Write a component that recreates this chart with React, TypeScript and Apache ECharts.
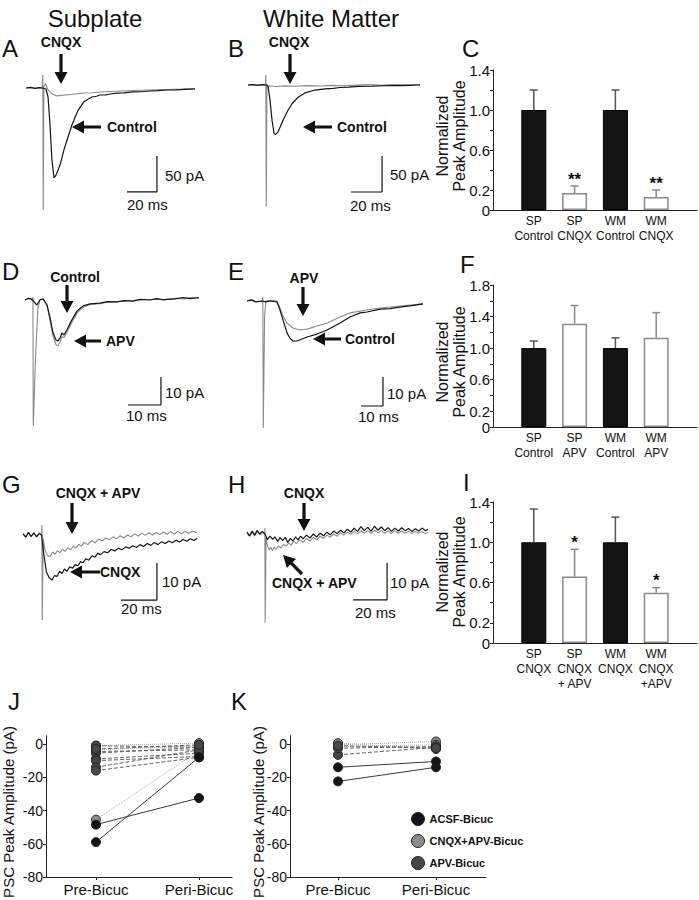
import React, { useEffect, useRef } from "react";
import * as echarts from "echarts";

// ---------------- DATA ----------------
// Traces: [time (ms), current (pA)]
const A_CONTROL = [[0,0],[3,0.8],[6,-0.5],[9,0.6],[10.7,0],[13.3,-1.4],[14.7,-12.5],[16,-51],[17.3,-100],[18.7,-125],[20,-121],[22.7,-107],[25.3,-86],[28,-68],[30.7,-51],[34.7,-31],[38.7,-19],[41,-16],[44,-12.5],[47,-11.5],[49.3,-9.7],[53,-9.5],[56,-8.3],[60.7,-7],[65,-6.8],[71.3,-5.5],[77,-5.2],[82.7,-4.2],[88,-3.6],[94,-2.8],[100,-2.6],[106,-1.8],[112.7,-1.4]];
const A_CNQX = [[0,0],[3,0.5],[6,-0.4],[9,0.5],[10.7,0],[11.2,18],[11.5,-169],[11.9,2],[13,6],[14.5,-2],[17,-8],[20.7,-11],[24.7,-10],[30,-9],[38,-7],[44,-6.5],[49.3,-5.5],[60,-4.5],[71.3,-3.5],[82,-2.8],[94,-2],[104,-1.4],[112.7,-0.7]];
const B_CONTROL = [[0,0],[3,0.6],[6,-0.5],[9,0.5],[11.6,0],[12.9,-1.4],[14.2,-21],[15.5,-49],[16.8,-67],[17.7,-69],[19.4,-65],[22.6,-49],[25.8,-35],[28.4,-26],[32.3,-17],[36.8,-11],[43.2,-7],[49.7,-5.5],[55,-4.8],[59.4,-3.5],[65,-3],[71,-2],[80,-1.5],[91.6,-0.7],[100,-0.8],[111,0]];
const B_CNQX = [[0,0],[3,0.6],[6,-0.5],[9,0.4],[11.2,0],[11.5,14],[11.8,-169],[12.2,1],[13,-3],[14,-1],[18,-2],[24,-1.2],[30,-1.8],[38,-0.8],[46,-1.3],[54,-0.5],[62,-1],[70,-0.2],[78,0.6],[86,-0.3],[94,0.5],[102,0.2],[111,0.6]];
const D_CONTROL = [[0,0],[1,0.6],[1.8,0.4],[2.3,0],[3.6,-1.8],[4.5,0],[5.5,0.4],[6.7,-1.8],[7.6,-6.4],[8.5,-11.8],[9.4,-14.3],[10,-14.6],[10.6,-13.6],[11.2,-11.8],[11.8,-12.5],[12.7,-10.7],[14.2,-7.1],[15.8,-3.9],[17.6,-2.1],[19.7,-1.4],[22.7,-1.1],[25,-0.6],[27.9,-0.7],[30,-0.2],[32.7,-0.4],[35,0.2],[37.9,0],[40,0.5],[42,0.1],[45.5,0.4],[48,0.9],[50,0.5],[52.7,0.9]];
const D_APV = [[0,0],[1,0.5],[2.2,0.3],[2.4,1],[2.5,-45],[3.2,-20],[3.9,-3],[4.5,0],[5.5,0.3],[6.7,-2.2],[7.6,-7.5],[8.5,-13],[9.4,-16],[10,-16.4],[10.6,-15],[11.2,-13],[11.8,-13.5],[12.7,-11.5],[14.2,-8],[15.8,-4.6],[17.6,-2.6],[19.7,-1.6],[22.7,-1.3],[25,-0.8],[27.9,-0.6],[30,-0.4],[32.7,-0.2],[35,0.1],[37.9,0.2],[40,0.3],[42,0],[45.5,0.6],[48,0.4],[50,0.8],[52.7,0.6]];
const E_CONTROL = [[0,0],[2,0.4],[4,-0.3],[6.8,0],[8.6,-0.3],[10.5,0],[13.6,-0.3],[15,-3.1],[16.4,-6.6],[18.2,-11],[19.5,-12.8],[20.9,-13.8],[22.7,-13.8],[25,-13.1],[27.3,-12.4],[31.8,-11.4],[36.4,-10],[42.3,-7.6],[46.8,-5.5],[51.4,-4.1],[54.5,-3.8],[60.5,-2.8],[65,-2.6],[69.5,-2.1],[75,-1.6],[80,-1]];
const E_APV = [[0,0],[2,0.3],[4,-0.2],[7,0],[7.2,1.4],[7.4,-43.8],[8,-5],[8.6,0],[10.5,0.2],[13.6,0],[15,-2.4],[16.4,-5.2],[18.2,-7.6],[20.9,-9.3],[24,-10],[27.3,-9.7],[31.8,-8.6],[36.4,-7.6],[42.3,-5.5],[46.8,-4.1],[54.5,-3.1],[60.5,-2.4],[69.5,-1.7],[80,-1]];
const G_CNQX = [[0,0.3],[1.5,-0.6],[3,0.7],[4.5,-0.4],[6,0.6],[7.5,-0.5],[9,0.4],[10.3,0],[11.5,-5],[13,-10],[14.5,-11.5],[16.1,-12.2],[17.5,-11],[18.9,-11.2],[20.3,-9.8],[21.7,-10.4],[23,-9.2],[24.4,-9.8],[26,-8.6],[27.5,-9],[28.9,-8],[30.5,-8.3],[32,-7.2],[33.3,-7.5],[35,-6.4],[36.6,-6.8],[38.3,-5.6],[40,-6],[41.5,-4.9],[43,-5.3],[45,-4.5],[47,-4.8],[49,-3.9],[51,-4.3],[53,-3.6],[55,-4],[57,-3.2],[59,-3.6],[61,-2.9],[63,-3.4],[65,-2.6],[67,-3.1],[69,-2.3],[71,-2.8],[73,-2],[75,-2.6],[77,-1.8],[79,-2.3],[81,-1.6],[83,-2.1],[85,-1.4],[87,-1.9],[89,-1.2],[91,-1.7],[93,-1],[95,-1.5],[96.7,-0.9]];
const G_CNQX_APV = [[0,0.4],[1.5,-0.5],[3,0.6],[4.5,-0.5],[6,0.5],[7.5,-0.3],[9,0.5],[10.3,0],[10.5,2.7],[10.7,-23],[11.2,-1],[12.2,-4],[13.5,-5.5],[15,-5.9],[16.4,-4.6],[17.8,-5.2],[19.2,-4.2],[20.6,-4.8],[22,-3.8],[23.4,-4.4],[25,-3.4],[26.5,-4],[28,-3],[29.5,-3.5],[31,-2.5],[32.5,-3],[34,-2],[36,-2.6],[38,-1.5],[40,-2.1],[42,-1.1],[44,-1.6],[46,-0.8],[48,-1.3],[50,-0.5],[52,-1],[54,-0.2],[56,-0.8],[58,0],[60,-0.5],[62,0.3],[64,-0.3],[66,0.5],[68,-0.1],[70,0.6],[72,0],[74,0.7],[76,0.1],[78,0.8],[80,0.2],[82,0.9],[84,0.2],[86,1],[88,0.3],[90,1],[92,0.4],[94,1.1],[96.7,0.6]];
const H_CNQX = [[0,0.5],[1.5,-0.5],[3,0.8],[4.5,-0.3],[6,1],[7.5,0],[9,0.7],[10.6,0],[12,-1.5],[13.5,-0.6],[15,-1.4],[16.5,-0.8],[18,-2],[19.5,-1],[21,-1.8],[22.5,-0.9],[24,-2.3],[25.5,-1.2],[27,-1.9],[28.5,-0.8],[30,-1.6],[31.5,-0.6],[33,-1.3],[35,-0.3],[37,-1.1],[39,0],[41,-0.8],[43,0.2],[45,-0.5],[47,0.5],[49,-0.2],[51,0.8],[53,0.1],[55,1],[57,0.3],[59,1.3],[61,0.5],[63,1.6],[65,0.7],[67,2],[69,0.9],[71,1.8],[73,0.8],[75,2.1],[77,1],[79,1.9],[81,0.9],[83,1.7],[85,0.7],[87,1.6],[89,0.8],[91,1.7],[93,0.9],[95,1.5],[97,0.7],[99,1.4],[101,0.8],[103,1.6],[105,0.9],[106.5,1.3]];
const H_CNQX_APV = [[0,0.2],[1.5,-0.6],[3,0.5],[4.5,-0.5],[6,0.7],[7.5,-0.2],[9,0.4],[10.4,0],[10.5,1.6],[10.7,-24],[11.2,-1],[12,-3],[13,-4.3],[14,-3.6],[15,-4.5],[16,-3.5],[17,-4.2],[18.5,-3.2],[20,-3.8],[21.5,-2.8],[23,-3.3],[24.5,-2.4],[26,-3],[27.5,-2],[29,-2.6],[31,-1.6],[33,-2.3],[35,-1.2],[37,-1.9],[39,-0.9],[41,-1.6],[43,-0.6],[45,-1.2],[47,-0.3],[49,-0.9],[51,0],[53,-0.6],[55,0.3],[57,-0.3],[59,0.5],[61,-0.1],[63,0.7],[65,0.1],[67,0.8],[69,0.2],[71,0.9],[73,0.2],[75,1],[77,0.3],[79,0.9],[81,0.2],[83,0.8],[85,0.1],[87,0.9],[89,0.2],[91,0.8],[93,0.2],[95,0.7],[97,0.1],[99,0.7],[101,0.2],[103,0.6],[105,0.1],[106.5,0.5]];

// Bar panels (normalized peak amplitude)
const C_LABELS = ["SP\nControl", "SP\nCNQX", "WM\nControl", "WM\nCNQX"];
const C_MEAN = [1.0, 0.17, 1.0, 0.13];
const C_UPPER = [1.2, 0.24, 1.2, 0.2];
const C_SIG = ["", "**", "", "**"];
const F_LABELS = ["SP\nControl", "SP\nAPV", "WM\nControl", "WM\nAPV"];
const F_MEAN = [1.0, 1.31, 1.0, 1.13];
const F_UPPER = [1.09, 1.54, 1.13, 1.45];
const F_SIG = ["", "", "", ""];
const I_LABELS = ["SP\nCNQX", "SP\nCNQX\n+ APV", "WM\nCNQX", "WM\nCNQX\n+APV"];
const I_MEAN = [1.0, 0.66, 1.0, 0.5];
const I_UPPER = [1.33, 0.93, 1.25, 0.55];
const I_SIG = ["", "*", "", "*"];
const C_TICKS = [0, 0.2, 0.6, 1.0, 1.4];
const F_TICKS = [0, 0.2, 0.6, 1.0, 1.4, 1.8];
const I_TICKS = [0, 0.2, 0.6, 1.0, 1.4];

// Paired PSC peak amplitudes (pA): pre vs peri bicuculline
const PAIR_CATS = ["Pre-Bicuc", "Peri-Bicuc"];
const PSC_TICKS = [-80, -60, -40, -20, 0];
const J_ACSF_PRE = [-59, -48.5];
const J_ACSF_PERI = [-8, -32.5];
const J_CNQX_APV_PRE = [-45.5, -1, -3.5];
const J_CNQX_APV_PERI = [-4, 0.5, -1];
const J_APV_PRE = [-1, -4.5, -5.5, -9, -10, -14, -16, -3];
const J_APV_PERI = [-2, -3.5, -2, -5.5, -7.5, -3.5, -8, -0.5];
const K_ACSF_PRE = [-22.5, -14];
const K_ACSF_PERI = [-14, -10.5];
const K_CNQX_APV_PRE = [-0.5, -1.5, 0.5];
const K_CNQX_APV_PERI = [1.5, -0.5, -3];
const K_APV_PRE = [-6.5, -2.5, -1];
const K_APV_PERI = [-2, -1.5, -2.5];
const GROUPS = ["ACSF-Bicuc", "CNQX+APV-Bicuc", "APV-Bicuc"];

// ---------------- LAYOUT / STYLE ----------------
const FONT = '"Liberation Sans", Arial, Helvetica, sans-serif';
const BLACK = "#141414";
const GRAY = "#8a8a8a";
const BAR_KINDS = ["filled", "open", "filled", "open"];

type TP = { left: number; top: number; width: number; height: number; xMax: number; yMin: number; yMax: number; sb: number[] };
// sb = [corner t, corner pA, dt, dpA]
const TRACE_LAYOUT: TP[] = [
  { left: 26, top: 59.2, width: 180, height: 158.4, xMax: 120, yMin: -180, yMax: 40, sb: [87.3, -144.4, 20, 50] },
  { left: 248, top: 56.2, width: 186, height: 158.4, xMax: 120, yMin: -180, yMax: 40, sb: [86.5, -148.6, 20, 50] },
  { left: 25, top: 272, width: 181.5, height: 168, xMax: 55, yMin: -50, yMax: 10, sb: [41.2, -37.5, 10, 10] },
  { left: 247, top: 272, width: 176, height: 174, xMax: 80, yMin: -50, yMax: 10, sb: [61.8, -36.2, 10, 10] },
  { left: 23, top: 498, width: 180, height: 148, xMax: 100, yMin: -30, yMax: 10, sb: [74.4, -17.6, 20, 10] },
  { left: 247, top: 497, width: 187, height: 148, xMax: 110, yMin: -30, yMax: 10, sb: [82.4, -17.8, 20, 10] },
];
const TRACE_DATA = [
  [A_CNQX, A_CONTROL],
  [B_CNQX, B_CONTROL],
  [D_APV, D_CONTROL],
  [E_APV, E_CONTROL],
  [G_CNQX_APV, G_CNQX],
  [H_CNQX_APV, H_CNQX],
];

const BAR_LAYOUT = [
  { left: 493, top: 70, width: 204, height: 140, max: 1.4 },
  { left: 493, top: 285, width: 204, height: 142, max: 1.8 },
  { left: 493, top: 502, width: 204, height: 141, max: 1.4 },
];

function arrowPts(x1: number, y1: number, x2: number, y2: number) {
  const sw = 1.6, hw = 6.5, hl = 12;
  const dx = x2 - x1, dy = y2 - y1;
  const L = Math.hypot(dx, dy);
  const ux = dx / L, uy = dy / L, px = -uy, py = ux;
  const bx = x2 - ux * hl, by = y2 - uy * hl;
  return [
    [x1 + px * sw, y1 + py * sw], [bx + px * sw, by + py * sw], [bx + px * hw, by + py * hw],
    [x2, y2], [bx - px * hw, by - py * hw], [bx - px * sw, by - py * sw], [x1 - px * sw, y1 - py * sw],
  ];
}

function txt(text: string, x: number, y: number, size: number, opts: any = {}) {
  return {
    type: "text", x, y, rotation: opts.rotation || 0, silent: true,
    style: {
      text, fill: "#111", fontFamily: FONT, fontSize: size, fontWeight: opts.bold ? "bold" : "normal",
      align: opts.align || "left", verticalAlign: "middle", lineHeight: opts.lineHeight || size * 1.1,
    },
  };
}

function buildOption() {
  const grid: any[] = [];
  const xAxis: any[] = [];
  const yAxis: any[] = [];
  const series: any[] = [];

  // trace panels 0..5
  TRACE_LAYOUT.forEach((p, i) => {
    grid.push({ left: p.left, top: p.top, width: p.width, height: p.height, containLabel: false, outerBoundsMode: "none" });
    xAxis.push({ gridIndex: i, type: "value", min: 0, max: p.xMax, show: false });
    yAxis.push({ gridIndex: i, type: "value", min: p.yMin, max: p.yMax, show: false });
    const [g, b] = TRACE_DATA[i];
    series.push({ type: "line", xAxisIndex: i, yAxisIndex: i, data: g, symbol: "none", silent: true, lineStyle: { color: GRAY, width: 1.1 }, z: 2 });
    series.push({ type: "line", xAxisIndex: i, yAxisIndex: i, data: b, symbol: "none", silent: true, lineStyle: { color: BLACK, width: 1.2 }, z: 3 });
    const [ct, cy, dt, dy] = p.sb;
    series.push({
      type: "line", xAxisIndex: i, yAxisIndex: i, symbol: "none", silent: true,
      data: [[ct - dt, cy], [ct, cy], [ct, cy + dy]], lineStyle: { color: "#111", width: 1.2 }, z: 4,
    });
  });

  const axisCommon = {
    axisLine: { show: true, onZero: false, lineStyle: { color: "#222", width: 1 } },
    splitLine: { show: false },
  };

  // bar panels 6..8
  const barSets = [
    { labels: C_LABELS, mean: C_MEAN, upper: C_UPPER, sig: C_SIG, ticks: C_TICKS },
    { labels: F_LABELS, mean: F_MEAN, upper: F_UPPER, sig: F_SIG, ticks: F_TICKS },
    { labels: I_LABELS, mean: I_MEAN, upper: I_UPPER, sig: I_SIG, ticks: I_TICKS },
  ];
  barSets.forEach((s, k) => {
    const gi = 6 + k;
    const L = BAR_LAYOUT[k];
    grid.push({ left: L.left, top: L.top, width: L.width, height: L.height, containLabel: false, outerBoundsMode: "none" });
    xAxis.push({
      gridIndex: gi, type: "value", min: 0, max: s.labels.length + 1, interval: 1, ...axisCommon,
      axisTick: { show: false },
      axisLabel: {
        show: true, margin: 3, color: "#111", fontFamily: FONT, fontSize: 12, lineHeight: 15,
        showMinLabel: true, showMaxLabel: true,
        formatter: (v: number) => (v >= 1 && v <= s.labels.length ? s.labels[Math.round(v) - 1] : ""),
      },
    });
    yAxis.push({
      gridIndex: gi, type: "value", min: 0, max: L.max, interval: 0.2, ...axisCommon,
      axisTick: { show: true, inside: false, length: 3, lineStyle: { color: "#222" } },
      axisLabel: {
        show: true, margin: 3, color: "#111", fontFamily: FONT, fontSize: 15,
        formatter: (v: number) => {
          const r = Math.round(v * 10) / 10;
          if (!s.ticks.some((t) => Math.abs(t - r) < 1e-6)) return "";
          return r === 0 ? "0" : r.toFixed(1);
        },
      },
    });
    series.push({
      type: "bar", xAxisIndex: gi, yAxisIndex: gi, barWidth: 25, silent: true, z: 3,
      data: s.mean.map((m, i) => ({
        value: [i + 1, m],
        itemStyle: BAR_KINDS[i] === "filled"
          ? { color: BLACK, borderColor: "#000", borderWidth: 1 }
          : { color: "#fff", borderColor: "#8a8a8a", borderWidth: 1.5 },
      })),
    });
    series.push({
      type: "custom", xAxisIndex: gi, yAxisIndex: gi, silent: true, z: 5,
      data: s.mean.map((m, i) => [i + 1, m, s.upper[i]]),
      renderItem: (params: any, api: any) => {
        const i = params.dataIndex;
        const x = api.value(0), m = api.value(1), e = api.value(2);
        const p0 = api.coord([x, m]);
        const p1 = api.coord([x, e]);
        const col = BAR_KINDS[i] === "filled" ? "#555" : "#8a8a8a";
        const children: any[] = [
          { type: "line", shape: { x1: p0[0], y1: p0[1], x2: p1[0], y2: p1[1] }, style: { stroke: col, lineWidth: 1.5 } },
          { type: "line", shape: { x1: p1[0] - 4, y1: p1[1], x2: p1[0] + 4, y2: p1[1] }, style: { stroke: col, lineWidth: 1.5 } },
        ];
        if (s.sig[i]) {
          children.push({
            type: "text", x: p1[0], y: p1[1] - 7,
            style: { text: s.sig[i], fill: "#111", fontFamily: FONT, fontSize: 17, fontWeight: "bold", align: "center", verticalAlign: "middle" },
          });
        }
        return { type: "group", children };
      },
    });
  });

  // paired panels 9..10
  const pairLayout = [
    { left: 46, top: 735.7, width: 186, height: 141.3, xMin: -0.485, xMax: 1.32 },
    { left: 290, top: 735.7, width: 196, height: 141.3, xMin: -0.49, xMax: 1.51 },
  ];
  const groupStyle = [
    { color: BLACK, line: { color: "#3a3a3a", width: 1, type: "solid" }, z: 5 },
    { color: "#8c8c8c", line: { color: "#a8a8a8", width: 1, type: "dotted" }, z: 3 },
    { color: "#474747", line: { color: "#555", width: 0.9, type: [4, 2] }, z: 4 },
  ];
  const pairSets = [
    [[J_ACSF_PRE, J_ACSF_PERI], [J_CNQX_APV_PRE, J_CNQX_APV_PERI], [J_APV_PRE, J_APV_PERI]],
    [[K_ACSF_PRE, K_ACSF_PERI], [K_CNQX_APV_PRE, K_CNQX_APV_PERI], [K_APV_PRE, K_APV_PERI]],
  ];
  pairLayout.forEach((L, k) => {
    const gi = 9 + k;
    grid.push({ left: L.left, top: L.top, width: L.width, height: L.height, containLabel: false, outerBoundsMode: "none" });
    xAxis.push({
      gridIndex: gi, type: "value", min: L.xMin, max: L.xMax, ...axisCommon,
      axisTick: { show: true, length: 3, customValues: [0, 1], lineStyle: { color: "#222" } },
      axisLabel: {
        show: true, margin: 5, color: "#111", fontFamily: FONT, fontSize: 15, customValues: [0, 1],
        formatter: (v: number) => PAIR_CATS[Math.round(v)] || "",
      },
    });
    yAxis.push({
      gridIndex: gi, type: "value", min: -80, max: 5, ...axisCommon,
      axisTick: { show: true, length: 3, customValues: PSC_TICKS, lineStyle: { color: "#222" } },
      axisLabel: {
        show: true, margin: 3, color: "#111", fontFamily: FONT, fontSize: 14, customValues: PSC_TICKS,
        formatter: (v: number) => String(v),
      },
    });
    pairSets[k].forEach(([pre, peri], g) => {
      const st = groupStyle[g];
      pre.forEach((a, i) => {
        series.push({
          type: "line", name: GROUPS[g], xAxisIndex: gi, yAxisIndex: gi, silent: true,
          data: [[0, a], [1, peri[i]]], symbol: "circle", symbolSize: 9, showSymbol: true,
          lineStyle: st.line, itemStyle: { color: st.color, borderColor: "#222", borderWidth: 1 }, z: st.z,
        });
      });
    });
  });

  // graphics
  const g: any[] = [];
  g.push(txt("Subplate", 95, 18, 24, { align: "center" }));
  g.push(txt("White Matter", 331, 18, 24, { align: "center" }));
  const letters: [string, number, number][] = [
    ["A", 2, 48], ["B", 228, 48], ["C", 462, 48], ["D", 2, 271], ["E", 228, 271], ["F", 460, 264],
    ["G", 2, 484], ["H", 228, 484], ["I", 463, 482], ["J", 8, 701], ["K", 231, 701],
  ];
  letters.forEach(([t, x, y]) => g.push(txt(t, x, y, 24)));

  const bold: [string, number, number, string][] = [
    ["CNQX", 61, 42, "center"], ["Control", 107, 127, "left"],
    ["CNQX", 289, 42, "center"], ["Control", 337, 127, "left"],
    ["Control", 75, 277, "center"], ["APV", 106, 341, "left"],
    ["APV", 304, 278, "center"], ["Control", 345, 339, "left"],
    ["CNQX + APV", 98, 493, "center"], ["CNQX", 100, 572, "left"],
    ["CNQX", 304, 493, "center"], ["CNQX + APV", 272, 583, "left"],
  ];
  bold.forEach(([t, x, y, a]) => g.push(txt(t, x, y, 14, { bold: true, align: a })));

  const scaleTxt: [string, number, number][] = [
    ["50 pA", 165, 175], ["20 ms", 127, 204],
    ["50 pA", 390, 174], ["20 ms", 350, 205],
    ["10 pA", 165, 392], ["10 ms", 126, 415],
    ["10 pA", 387, 393], ["10 ms", 358, 416],
    ["10 pA", 162, 581], ["20 ms", 121, 608],
    ["10 pA", 390, 582], ["20 ms", 355, 612],
  ];
  scaleTxt.forEach(([t, x, y]) => g.push(txt(t, x, y, 15)));

  const arrows = [
    [61, 54, 61, 84], [101, 127, 72, 127],
    [290, 54, 290, 84], [332, 127, 303, 127],
    [67, 285, 67, 313], [101, 341, 74, 341],
    [303, 287, 303, 316], [341, 339, 313, 339],
    [72, 503, 72, 534], [100, 572, 70, 572],
    [304, 503, 304, 531], [302, 574, 283, 555],
  ];
  arrows.forEach(([a, b, c, d]) =>
    g.push({ type: "polygon", silent: true, shape: { points: arrowPts(a, b, c, d) }, style: { fill: "#111" } })
  );

  [136, 362, 572].forEach((y) =>
    g.push(txt("Normalized\nPeak Amplitude", 451, y, 16, { align: "center", rotation: Math.PI / 2, lineHeight: 17 }))
  );
  g.push(txt("PSC Peak Amplitude (pA)", 8, 812, 15, { align: "center", rotation: Math.PI / 2 }));
  g.push(txt("PSC Peak Amplitude (pA)", 258, 812, 15, { align: "center", rotation: Math.PI / 2 }));

  return {
    animation: false,
    backgroundColor: "#fff",
    textStyle: { fontFamily: FONT },
    grid,
    xAxis,
    yAxis,
    series,
    legend: {
      data: GROUPS, orient: "vertical", left: 406, top: 807, icon: "circle",
      itemWidth: 13, itemHeight: 13, itemGap: 8, selectedMode: false,
      itemStyle: { borderColor: "#222", borderWidth: 1 },
      textStyle: { fontFamily: FONT, fontWeight: "bold", fontSize: 11, color: "#111" },
    },
    graphic: g,
  };
}

export default function App() {
  const ref = useRef<HTMLDivElement>(null);
  useEffect(() => {
    if (!ref.current) return;
    const chart = echarts.init(ref.current, null, { renderer: "svg" });
    chart.setOption(buildOption() as any);
    return () => chart.dispose();
  }, []);
  return (
    <div
      ref={ref}
      style={{ position: "absolute", left: 0, top: 0, width: 699, height: 900, background: "#fff" }}
    />
  );
}
